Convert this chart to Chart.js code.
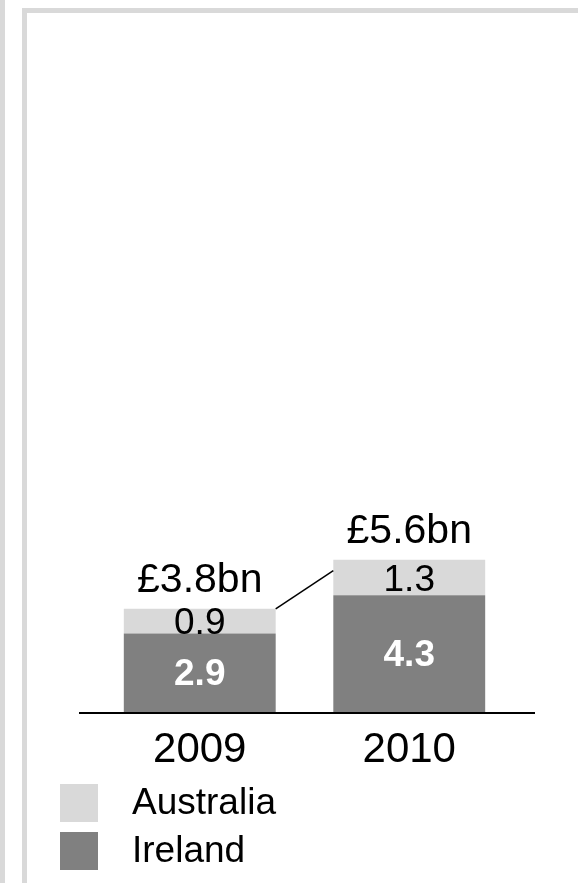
<!DOCTYPE html>
<html>
<head>
<meta charset="utf-8">
<script src="https://cdn.jsdelivr.net/npm/chart.js@4/dist/chart.umd.min.js"></script>
<style>
  html, body { margin: 0; padding: 0; background: #fff; }
  #wrap { position: relative; width: 578px; height: 883px; overflow: hidden; }
  .rule { position: absolute; background: #d9d9d9; }
  canvas { position: absolute; left: 0; top: 0; }
</style>
</head>
<body>
<div id="wrap">
  <div class="rule" style="left:0;top:0;width:5px;height:883px"></div>
  <div class="rule" style="left:22px;top:8px;width:5px;height:875px"></div>
  <div class="rule" style="left:22px;top:8px;width:556px;height:5px"></div>
  <canvas id="chart" width="578" height="883"></canvas>
</div>
<script>
const years = ['2009', '2010'];
const ireland = [2.9, 4.3];
const australia = [0.9, 1.3];
const seriesNames = ['Ireland', 'Australia'];
const seriesColors = ['#808080', '#d9d9d9'];

const FONT = "'Liberation Sans', Arial, sans-serif";
Chart.defaults.font.family = FONT;

// value labels, totals, connector, baseline and legend
const annotate = {
  id: 'annotate',
  afterDatasetsDraw(chart) {
    const ctx = chart.ctx;
    const area = chart.chartArea;
    const low = chart.getDatasetMeta(0).data;
    const high = chart.getDatasetMeta(1).data;

    ctx.save();

    // baseline
    ctx.strokeStyle = '#000';
    ctx.lineWidth = 2;
    ctx.beginPath();
    ctx.moveTo(79, area.bottom + 0.5);
    ctx.lineTo(535, area.bottom + 0.5);
    ctx.stroke();

    ctx.textAlign = 'center';
    ctx.textBaseline = 'middle';

    low.forEach((bar, i) => {
      ctx.fillStyle = '#fff';
      ctx.font = 'bold 37px ' + FONT;
      ctx.fillText(ireland[i].toFixed(1), bar.x, (bar.y + bar.base) / 2 + 2);
    });
    high.forEach((bar, i) => {
      ctx.fillStyle = '#000';
      ctx.font = '37px ' + FONT;
      ctx.fillText(australia[i].toFixed(1), bar.x, (bar.y + bar.base) / 2 + 3);

      const total = ireland[i] + australia[i];
      ctx.font = '41px ' + FONT;
      ctx.textBaseline = 'alphabetic';
      ctx.fillText('£' + total.toFixed(1) + 'bn', bar.x, bar.y - 17);
      ctx.textBaseline = 'middle';
    });

    // growth connector from first bar to second
    const a = high[0], b = high[1];
    ctx.strokeStyle = '#000';
    ctx.lineWidth = 1.5;
    ctx.beginPath();
    ctx.moveTo(a.x + a.width / 2, a.y);
    ctx.lineTo(b.x - b.width / 2, b.y + 11);
    ctx.stroke();

    // legend, top entry is the upper series
    ctx.font = '37px ' + FONT;
    ctx.textAlign = 'left';
    [1, 0].forEach((s, row) => {
      const y = 784 + row * 48;
      ctx.fillStyle = seriesColors[s];
      ctx.fillRect(60, y, 38, 38);
      ctx.fillStyle = '#000';
      ctx.fillText(seriesNames[s], 132, y + 20);
    });

    ctx.restore();
  }
};

new Chart(document.getElementById('chart'), {
  type: 'bar',
  data: {
    labels: years,
    datasets: [
      { label: seriesNames[0], data: ireland, backgroundColor: seriesColors[0] },
      { label: seriesNames[1], data: australia, backgroundColor: seriesColors[1] }
    ]
  },
  options: {
    responsive: false,
    animation: false,
    events: [],
    categoryPercentage: 1,
    barPercentage: 0.725,
    layout: { padding: { left: 95, right: 64, top: 30, bottom: 94 } },
    plugins: { legend: { display: false }, tooltip: { enabled: false } },
    scales: {
      x: {
        stacked: true,
        grid: { display: false, drawTicks: false },
        border: { display: false },
        ticks: { color: '#000', font: { size: 42 }, padding: 13 }
      },
      y: { stacked: true, display: false, min: 0, max: 25 }
    }
  },
  plugins: [annotate]
});
</script>
</body>
</html>
